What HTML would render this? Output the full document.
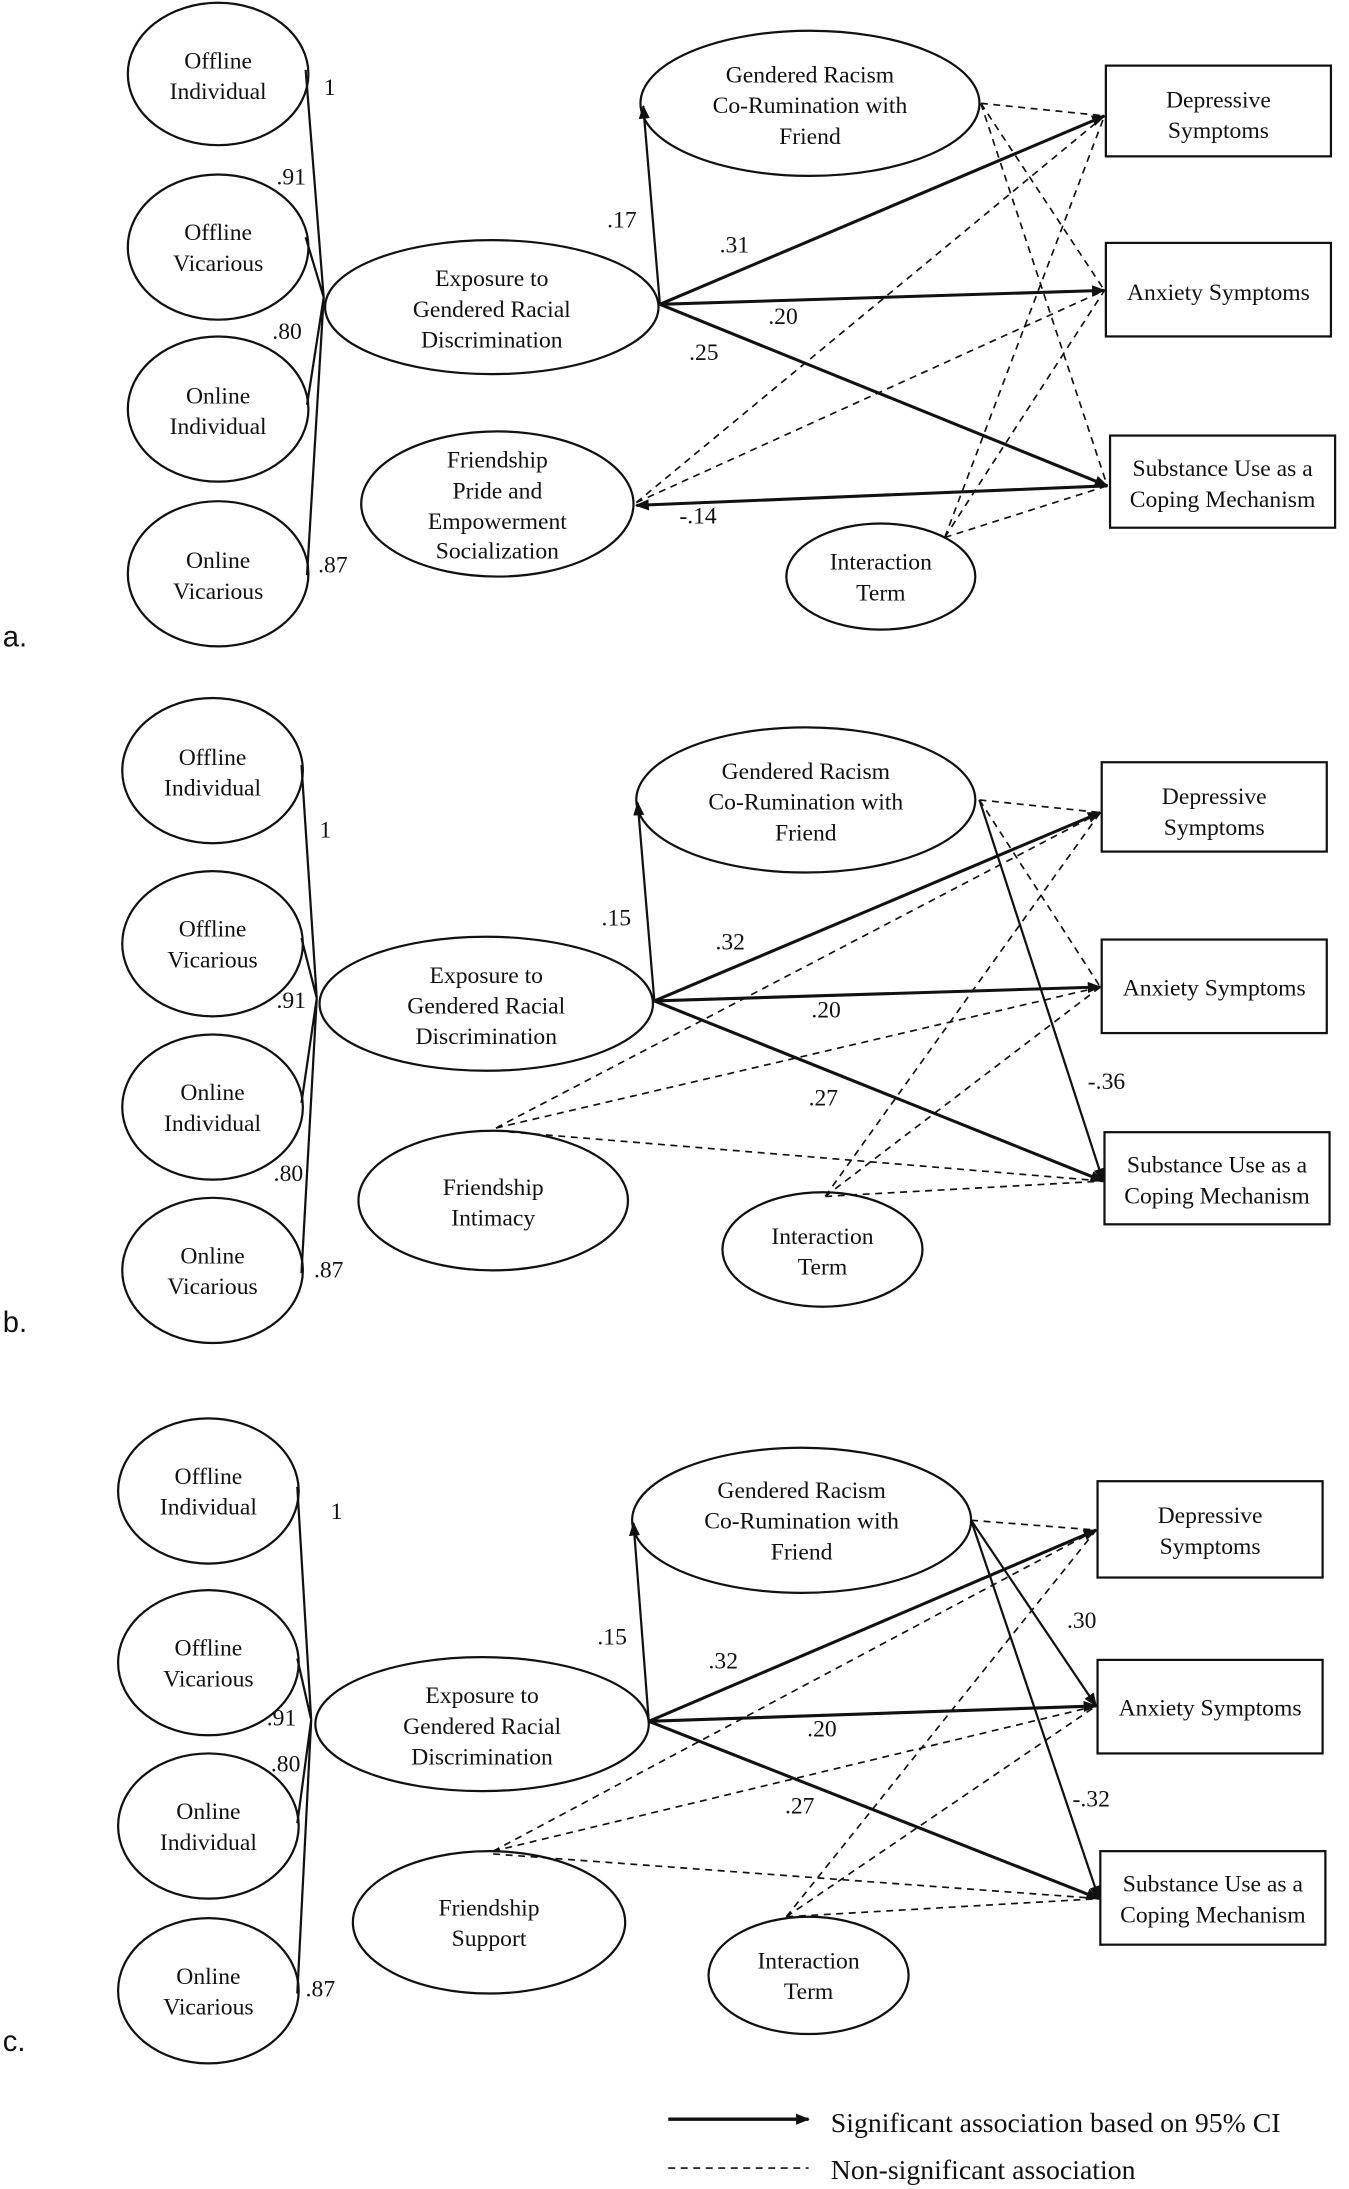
<!DOCTYPE html>
<html><head><meta charset="utf-8"><style>
html,body{margin:0;padding:0;background:#fff;}
svg{display:block;}
text{font-family:"Liberation Serif",serif;font-size:17px;fill:#111;}
.lab{font-family:"Liberation Sans",sans-serif;font-size:21px;}
</style></head><body>
<svg width="1349" height="2189" viewBox="0 0 971 1568" preserveAspectRatio="none" xmlns="http://www.w3.org/2000/svg">
<defs>
<marker id="ar" markerWidth="10" markerHeight="8" refX="9" refY="4" orient="auto" markerUnits="userSpaceOnUse"><path d="M0,0 L10,4 L0,8 Z" fill="#111"/></marker>
</defs>
<g fill="none" stroke="#111" stroke-width="1.6">
<!-- PANEL A -->
<ellipse cx="157" cy="53" rx="65" ry="51"/>
<ellipse cx="157" cy="177" rx="65" ry="52"/>
<ellipse cx="157" cy="293" rx="65" ry="52"/>
<ellipse cx="157" cy="411" rx="65" ry="52"/>
<path d="M220,50 L233,213 M220,170 L233,213 M221,290 L233,213 M221,412 L233,213"/>
<ellipse cx="354" cy="220" rx="120" ry="48"/>
<ellipse cx="583" cy="74" rx="122" ry="52"/>
<ellipse cx="358" cy="361" rx="98" ry="52"/>
<ellipse cx="634" cy="413" rx="68" ry="38"/>
<rect x="796" y="47" width="162" height="65"/>
<rect x="796" y="174" width="162" height="67"/>
<rect x="799" y="312" width="162" height="66"/>
<g stroke-width="2.2">
<line x1="475" y1="218" x2="463" y2="76" stroke-width="1.6" marker-end="url(#ar)"/>
<line x1="475" y1="218" x2="795" y2="83" marker-end="url(#ar)"/>
<line x1="475" y1="218" x2="795" y2="208" marker-end="url(#ar)"/>
<line x1="475" y1="218" x2="797" y2="348" marker-end="url(#ar)"/>
<line x1="797" y1="348" x2="458" y2="362" marker-end="url(#ar)"/>
</g>
<g stroke-dasharray="5,4" stroke-width="1.2">
<path d="M706,74 L795,83 M706,74 L795,208 M706,74 L797,348"/>
<path d="M458,360 L795,83 M458,360 L795,208"/>
<path d="M680,385 L795,83 M680,385 L795,208 M680,385 L797,348"/>
</g>

<!-- PANEL B -->
<ellipse cx="153" cy="552" rx="65" ry="52"/>
<ellipse cx="153" cy="676" rx="65" ry="52"/>
<ellipse cx="153" cy="793" rx="65" ry="52"/>
<ellipse cx="153" cy="910" rx="65" ry="52"/>
<path d="M217,548 L228,715 M217,672 L228,715 M217,790 L228,715 M217,912 L228,715"/>
<ellipse cx="350" cy="719" rx="120" ry="48"/>
<ellipse cx="580" cy="573" rx="122" ry="52"/>
<ellipse cx="355" cy="860" rx="97" ry="50"/>
<ellipse cx="592" cy="895" rx="72" ry="41"/>
<rect x="793" y="546" width="162" height="64"/>
<rect x="793" y="673" width="162" height="67"/>
<rect x="795" y="811" width="162" height="66"/>
<g stroke-width="2.2">
<line x1="471" y1="717" x2="459" y2="575" stroke-width="1.6" marker-end="url(#ar)"/>
<line x1="471" y1="717" x2="792" y2="582" marker-end="url(#ar)"/>
<line x1="471" y1="717" x2="792" y2="707" marker-end="url(#ar)"/>
<line x1="471" y1="717" x2="794" y2="846" marker-end="url(#ar)"/>
<line x1="705" y1="573" x2="794" y2="846" stroke-width="1.6" marker-end="url(#ar)"/>
</g>
<g stroke-dasharray="5,4" stroke-width="1.2">
<path d="M705,573 L792,582 M705,573 L792,707"/>
<path d="M357,808 L792,582 M357,808 L792,707 M357,810 L794,846"/>
<path d="M594,857 L792,582 M594,857 L792,707 M594,857 L794,846"/>
</g>

<!-- PANEL C -->
<ellipse cx="150" cy="1068" rx="65" ry="52"/>
<ellipse cx="150" cy="1191" rx="65" ry="52"/>
<ellipse cx="150" cy="1308" rx="65" ry="52"/>
<ellipse cx="150" cy="1426" rx="65" ry="52"/>
<path d="M214,1065 L224,1232 M214,1188 L224,1232 M214,1306 L224,1232 M214,1428 L224,1232"/>
<ellipse cx="347" cy="1235" rx="120" ry="48"/>
<ellipse cx="577" cy="1089" rx="122" ry="52"/>
<ellipse cx="352" cy="1377" rx="98" ry="51"/>
<ellipse cx="582" cy="1415" rx="72" ry="42"/>
<rect x="790" y="1061" width="162" height="69"/>
<rect x="790" y="1189" width="162" height="67"/>
<rect x="792" y="1326" width="162" height="67"/>
<g stroke-width="2.2">
<line x1="467" y1="1233" x2="456" y2="1091" stroke-width="1.6" marker-end="url(#ar)"/>
<line x1="467" y1="1233" x2="789" y2="1096" marker-end="url(#ar)"/>
<line x1="467" y1="1233" x2="789" y2="1222" marker-end="url(#ar)"/>
<line x1="467" y1="1233" x2="791" y2="1360" marker-end="url(#ar)"/>
<line x1="699" y1="1089" x2="789" y2="1222" stroke-width="1.6" marker-end="url(#ar)"/>
<line x1="699" y1="1089" x2="791" y2="1360" stroke-width="1.6" marker-end="url(#ar)"/>
</g>
<g stroke-dasharray="5,4" stroke-width="1.2">
<path d="M699,1089 L789,1096"/>
<path d="M355,1326 L789,1096 M355,1326 L789,1222 M355,1328 L791,1360"/>
<path d="M566,1373 L789,1096 M566,1373 L789,1222 M566,1373 L791,1360"/>
</g>

<!-- legend -->
<line x1="481" y1="1518" x2="582" y2="1518" stroke-width="2.4" marker-end="url(#ar)"/>
<line x1="481" y1="1553" x2="582" y2="1553" stroke-width="1.2" stroke-dasharray="5,4"/>
</g>

<g text-anchor="middle">
<!-- A texts -->
<text x="157" y="49">Offline</text><text x="157" y="71">Individual</text>
<text x="157" y="172">Offline</text><text x="157" y="194">Vicarious</text>
<text x="157" y="289">Online</text><text x="157" y="311">Individual</text>
<text x="157" y="407">Online</text><text x="157" y="429">Vicarious</text>
<text x="354" y="205">Exposure to</text><text x="354" y="227">Gendered Racial</text><text x="354" y="249">Discrimination</text>
<text x="583" y="59">Gendered Racism</text><text x="583" y="81">Co-Rumination with</text><text x="583" y="103">Friend</text>
<text x="358" y="335">Friendship</text><text x="358" y="357">Pride and</text><text x="358" y="379">Empowerment</text><text x="358" y="400">Socialization</text>
<text x="634" y="408">Interaction</text><text x="634" y="430">Term</text>
<text x="877" y="77">Depressive</text><text x="877" y="99">Symptoms</text>
<text x="877" y="215">Anxiety Symptoms</text>
<text x="880" y="341">Substance Use as a</text><text x="880" y="363">Coping Mechanism</text>
<!-- B texts -->
<text x="153" y="548">Offline</text><text x="153" y="570">Individual</text>
<text x="153" y="671">Offline</text><text x="153" y="693">Vicarious</text>
<text x="153" y="788">Online</text><text x="153" y="810">Individual</text>
<text x="153" y="905">Online</text><text x="153" y="927">Vicarious</text>
<text x="350" y="704">Exposure to</text><text x="350" y="726">Gendered Racial</text><text x="350" y="748">Discrimination</text>
<text x="580" y="558">Gendered Racism</text><text x="580" y="580">Co-Rumination with</text><text x="580" y="602">Friend</text>
<text x="355" y="856">Friendship</text><text x="355" y="878">Intimacy</text>
<text x="592" y="891">Interaction</text><text x="592" y="913">Term</text>
<text x="874" y="576">Depressive</text><text x="874" y="598">Symptoms</text>
<text x="874" y="713">Anxiety Symptoms</text>
<text x="876" y="840">Substance Use as a</text><text x="876" y="862">Coping Mechanism</text>
<!-- C texts -->
<text x="150" y="1063">Offline</text><text x="150" y="1085">Individual</text>
<text x="150" y="1186">Offline</text><text x="150" y="1208">Vicarious</text>
<text x="150" y="1303">Online</text><text x="150" y="1325">Individual</text>
<text x="150" y="1421">Online</text><text x="150" y="1443">Vicarious</text>
<text x="347" y="1220">Exposure to</text><text x="347" y="1242">Gendered Racial</text><text x="347" y="1264">Discrimination</text>
<text x="577" y="1073">Gendered Racism</text><text x="577" y="1095">Co-Rumination with</text><text x="577" y="1117">Friend</text>
<text x="352" y="1372">Friendship</text><text x="352" y="1394">Support</text>
<text x="582" y="1410">Interaction</text><text x="582" y="1432">Term</text>
<text x="871" y="1091">Depressive</text><text x="871" y="1113">Symptoms</text>
<text x="871" y="1229">Anxiety Symptoms</text>
<text x="873" y="1355">Substance Use as a</text><text x="873" y="1377">Coping Mechanism</text>
</g>
<!-- path labels -->
<text x="233" y="68">1</text><text x="199" y="132">.91</text><text x="196" y="243">.80</text><text x="229" y="410">.87</text>
<text x="437" y="163">.17</text><text x="518" y="181">.31</text><text x="553" y="232">.20</text><text x="496" y="258">.25</text><text x="489" y="375">-.14</text>
<text x="230" y="600">1</text><text x="199" y="722">.91</text><text x="197" y="846">.80</text><text x="226" y="915">.87</text>
<text x="433" y="663">.15</text><text x="515" y="680">.32</text><text x="584" y="729">.20</text><text x="582" y="792">.27</text><text x="783" y="780">-.36</text>
<text x="238" y="1088">1</text><text x="192" y="1236">.91</text><text x="195" y="1269">.80</text><text x="220" y="1430">.87</text>
<text x="430" y="1178">.15</text><text x="510" y="1195">.32</text><text x="581" y="1244">.20</text><text x="565" y="1299">.27</text><text x="768" y="1166">.30</text><text x="772" y="1294">-.32</text>
<text class="lab" x="2" y="463">a.</text>
<text class="lab" x="2" y="954">b.</text>
<text class="lab" x="2" y="1469">c.</text>
<text x="598" y="1527" style="font-size:20px">Significant association based on 95% CI</text>
<text x="598" y="1561" style="font-size:20px">Non-significant association</text>
</svg>
</body></html>
